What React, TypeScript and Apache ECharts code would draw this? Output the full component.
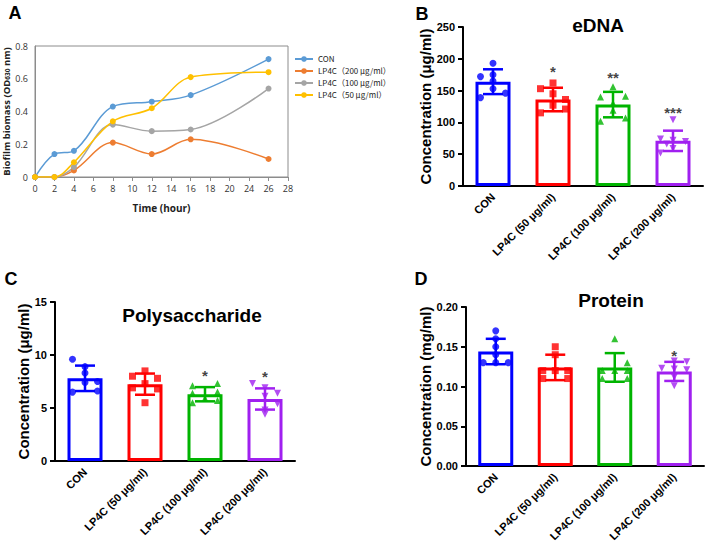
import React, { useEffect, useRef } from "react";
import * as echarts from "echarts";

// ---------- Panel A data ----------
const timeLabels = ["0", "2", "4", "6", "8", "10", "12", "14", "16", "18", "20", "24", "26", "28"];
const sampleTimes = ["0", "2", "4", "8", "12", "16", "26"];
const conA = [0, 0.14, 0.16, 0.43, 0.46, 0.5, 0.72];
const lp200A = [0, 0, 0.04, 0.21, 0.14, 0.23, 0.11];
const lp100A = [0, 0, 0.06, 0.32, 0.28, 0.29, 0.54];
const lp50A = [0, 0, 0.09, 0.34, 0.42, 0.61, 0.64];
const legendA = ["CON", "LP4C（200 μg/ml）", "LP4C（100 μg/ml）", "LP4C（50 μg/ml）"];
const yTicksA = { min: 0, max: 0.8, interval: 0.2 };

// ---------- Panels B–D data ----------
const groups = ["CON", "LP4C (50 μg/ml)", "LP4C (100 μg/ml)", "LP4C (200 μg/ml)"];

const eDNAMean = [164, 136, 128, 71];
const eDNASD = [19.5, 18.5, 20, 16];
const eDNAPoints = [
  [193, 175, 172, 165, 153, 146, 139],
  [162, 153, 145, 136, 127, 121, 115],
  [156, 141, 140, 130, 119, 107, 102],
  [104, 74, 72, 70, 66, 59, 52],
];
const eDNAStars = ["", "*", "**", "***"];
const eDNAStarAt = [0, 180, 171, 115];

const polyMean = [7.8, 7.25, 6.3, 5.85];
const polySD = [1.2, 1.0, 0.67, 1.0];
const polyPoints = [
  [9.6, 8.9, 8.3, 7.5, 7.4, 6.6, 6.5],
  [8.5, 8.0, 7.8, 7.3, 6.9, 6.8, 5.5],
  [7.3, 7.1, 6.5, 6.4, 5.9, 5.7, 5.5],
  [7.3, 6.9, 6.4, 6.1, 5.4, 4.8, 4.4],
];
const polyStars = ["", "", "*", "*"];
const polyStarAt = [0, 0, 8.05, 7.95];

const protMean = [0.144, 0.124, 0.124, 0.119];
const protSD = [0.016, 0.016, 0.018, 0.012];
const protPoints = [
  [0.17, 0.16, 0.15, 0.14, 0.13, 0.13, 0.13],
  [0.15, 0.14, 0.12, 0.12, 0.12, 0.11, 0.11],
  [0.16, 0.13, 0.12, 0.12, 0.12, 0.11, 0.11],
  [0.132, 0.131, 0.123, 0.122, 0.121, 0.112, 0.101],
];
const protStars = ["", "", "", "*"];
const protStarAt = [0, 0, 0, 0.139];

// ---------- layout / style (not data) ----------
const spreadB = [[0, 0, -1, 0, 0, 1, -1], [0, -1, 0, 1, 0, 1, -1], [0, 1, -1, 0, 0, 1, -1], [0, -1, 0, 1, -0.5, 0, -1]];
const spreadC = [[-1, 0, 0, 1, 0, 1, -1], [0, -1, 1, 0, -1, 1, 0], [1, -1, 1, -1, 0, 1, -1], [-1, 0, 1, 0, 1, 0, 0]];
const spreadD = [[0, 0, 0, 0, -1, 0, 1], [0, 0, -1, 0, 1, -1, 1], [0, 1, -1, 0, 1, -1, 1], [0, 1, -1, 0, 1, 0, 0]];
const groupColors = ["#0000ff", "#ff0000", "#00b400", "#a020f0"];
const groupSymbols = ["circle", "rect", "triangle", "triangle"];
const groupRotate = [0, 0, 0, 180];
const lineColorsA = ["#5b9bd5", "#ed7d31", "#a5a5a5", "#ffc000"];
const ARIAL = '"Liberation Sans", Arial, sans-serif';
const SANS = '"Open Sans", "Noto Sans", sans-serif';

function toTimeSeries(vals: number[]) {
  return timeLabels.map((t) => {
    const k = sampleTimes.indexOf(t);
    return k >= 0 ? vals[k] : null;
  });
}

function panelSeries(
  gi: number,
  means: number[],
  sds: number[],
  points: number[][],
  spread: number[][],
  stars: string[],
  starAt: number[]
) {
  const series: any[] = [];
  series.push({
    type: "bar",
    xAxisIndex: gi,
    yAxisIndex: gi,
    barWidth: 35,
    itemStyle: { color: "#ffffff", borderWidth: 3 },
    data: means.map((m, i) => ({ value: m, itemStyle: { borderColor: groupColors[i] } })),
    z: 2,
  });
  series.push({
    type: "custom",
    xAxisIndex: gi,
    yAxisIndex: gi,
    data: means.map((m, i) => [i, m - sds[i], m + sds[i]]),
    encode: { x: 0, y: [1, 2] },
    z: 3,
    renderItem: (params: any, api: any) => {
      const i = api.value(0);
      const lo = api.coord([i, api.value(1)]);
      const hi = api.coord([i, api.value(2)]);
      const c = groupColors[params.dataIndex];
      const st = { stroke: c, lineWidth: 2.5 };
      const hw = 10;
      return {
        type: "group",
        children: [
          { type: "line", shape: { x1: lo[0], y1: lo[1], x2: hi[0], y2: hi[1] }, style: st },
          { type: "line", shape: { x1: hi[0] - hw, y1: hi[1], x2: hi[0] + hw, y2: hi[1] }, style: st },
          { type: "line", shape: { x1: lo[0] - hw, y1: lo[1], x2: lo[0] + hw, y2: lo[1] }, style: st },
        ],
      };
    },
  });
  const pts: any[] = [];
  points.forEach((arr, i) =>
    arr.forEach((v, j) => {
      pts.push({
        value: [i, v],
        symbol: groupSymbols[i],
        symbolRotate: groupRotate[i],
        symbolOffset: [spread[i][j] * 12.5, 0],
        itemStyle: { color: groupColors[i] },
      });
    })
  );
  series.push({
    type: "scatter",
    xAxisIndex: gi,
    yAxisIndex: gi,
    symbolSize: 7,
    data: pts,
    z: 4,
  });
  const st: any[] = [];
  stars.forEach((s, i) => {
    if (s) st.push({ name: s, value: [i, starAt[i]] });
  });
  series.push({
    type: "scatter",
    xAxisIndex: gi,
    yAxisIndex: gi,
    symbolSize: 0,
    data: st,
    label: {
      show: true,
      position: "inside",
      formatter: "{b}",
      color: "#111",
      fontSize: 15,
      fontWeight: "bold",
      fontFamily: ARIAL,
    },
    z: 5,
  });
  return series;
}

function catAxis(gi: number) {
  return {
    type: "category",
    gridIndex: gi,
    data: groups,
    axisLine: { lineStyle: { color: "#000", width: 2 } },
    axisTick: { show: false },
    axisLabel: {
      rotate: 45,
      interval: 0,
      margin: 9,
      color: "#000",
      fontWeight: "bold",
      fontSize: 11,
      fontFamily: ARIAL,
    },
  };
}

function valAxis(gi: number, min: number, max: number, interval: number, name: string, nameGap: number, dec: number) {
  return {
    type: "value",
    gridIndex: gi,
    min,
    max,
    interval,
    name,
    nameLocation: "middle",
    nameGap,
    nameTextStyle: { fontWeight: "bold", fontSize: 15, color: "#000", fontFamily: ARIAL },
    axisLine: { show: true, lineStyle: { color: "#000", width: 2 } },
    axisTick: { show: true, length: 5, lineStyle: { color: "#000", width: 2 } },
    splitLine: { show: false },
    axisLabel: {
      color: "#000",
      fontWeight: "bold",
      fontSize: 11,
      fontFamily: ARIAL,
      margin: 8,
      formatter: (v: number) => v.toFixed(dec),
    },
  };
}

function txt(text: string, x: number, y: number, size: number) {
  return {
    type: "text",
    x,
    y,
    style: {
      text,
      fontSize: size,
      fontWeight: "bold",
      fontFamily: ARIAL,
      fill: "#000",
      align: "center",
      verticalAlign: "middle",
    },
  };
}

export default function App() {
  const ref = useRef<HTMLDivElement>(null);
  useEffect(() => {
    if (!ref.current) return;
    const chart = echarts.init(ref.current, undefined, { renderer: "svg" });
    const aSeries = [conA, lp200A, lp100A, lp50A].map((vals, k) => ({
      type: "line",
      name: legendA[k],
      xAxisIndex: 0,
      yAxisIndex: 0,
      data: toTimeSeries(vals),
      connectNulls: true,
      smooth: 0.35,
      symbol: "circle",
      symbolSize: 6,
      color: lineColorsA[k],
      lineStyle: { width: 1.5, color: lineColorsA[k] },
      itemStyle: { color: lineColorsA[k] },
      z: 3,
    }));
    const option: any = {
      animation: false,
      backgroundColor: "#ffffff",
      legend: {
        data: legendA,
        orient: "vertical",
        left: 289,
        top: 50,
        itemWidth: 18,
        itemHeight: 7,
        itemGap: 4,
        textStyle: { fontSize: 8, color: "#222", fontFamily: '"Noto Sans CJK SC", "Noto Sans", sans-serif' },
      },
      grid: [
        { left: 35, top: 46, width: 253, height: 131, show: true, borderColor: "#8c8c8c", borderWidth: 1, backgroundColor: "transparent" },
        { left: 463, top: 27, width: 240, height: 159 },
        { left: 55, top: 302, width: 240, height: 159 },
        { left: 466, top: 307, width: 238, height: 159 },
      ],
      xAxis: [
        {
          type: "category",
          gridIndex: 0,
          data: timeLabels,
          boundaryGap: false,
          axisLine: { lineStyle: { color: "#8c8c8c", width: 1 } },
          axisTick: { show: true, length: 4, interval: 0, lineStyle: { color: "#8c8c8c" } },
          axisLabel: { interval: 0, fontSize: 9, color: "#333", margin: 7, fontFamily: SANS },
          name: "Time (hour)",
          nameLocation: "middle",
          nameGap: 26,
          nameTextStyle: { fontWeight: "bold", fontSize: 10, color: "#222", fontFamily: SANS },
        },
        catAxis(1),
        catAxis(2),
        catAxis(3),
      ],
      yAxis: [
        {
          type: "value",
          gridIndex: 0,
          min: yTicksA.min,
          max: yTicksA.max,
          interval: yTicksA.interval,
          axisLine: { show: true, lineStyle: { color: "#8c8c8c" } },
          axisTick: { show: false },
          splitLine: { show: false },
          axisLabel: { fontSize: 9, color: "#333", margin: 7, fontFamily: SANS },
          name: "{b|Biofilm biomass (OD}{s|630}{b| nm)}",
          nameLocation: "middle",
          nameGap: 23,
          nameTextStyle: {
            rich: {
              b: { fontWeight: "bold", fontSize: 9.5, color: "#222", fontFamily: SANS },
              s: { fontWeight: "bold", fontSize: 6.5, color: "#222", fontFamily: SANS, verticalAlign: "bottom" },
            },
          },
        },
        valAxis(1, 0, 250, 50, "Concentration (μg/ml)", 28, 0),
        valAxis(2, 0, 15, 5, "Concentration (μg/ml)", 23, 0),
        valAxis(3, 0, 0.2, 0.05, "Concentration (mg/ml)", 29, 2),
      ],
      graphic: [
        txt("A", 15, 13, 18),
        txt("B", 422, 14, 18),
        txt("C", 11, 279, 18),
        txt("D", 421, 279, 18),
        txt("eDNA", 598, 25, 19),
        txt("Polysaccharide", 192, 315, 19),
        txt("Protein", 611, 300, 19),
      ],
      series: [
        ...aSeries,
        ...panelSeries(1, eDNAMean, eDNASD, eDNAPoints, spreadB, eDNAStars, eDNAStarAt),
        ...panelSeries(2, polyMean, polySD, polyPoints, spreadC, polyStars, polyStarAt),
        ...panelSeries(3, protMean, protSD, protPoints, spreadD, protStars, protStarAt),
      ],
    };
    chart.setOption(option);
    return () => chart.dispose();
  }, []);
  return (
    <div
      ref={ref}
      style={{ position: "absolute", left: 0, top: 0, width: 711, height: 551, background: "#fff" }}
    />
  );
}
